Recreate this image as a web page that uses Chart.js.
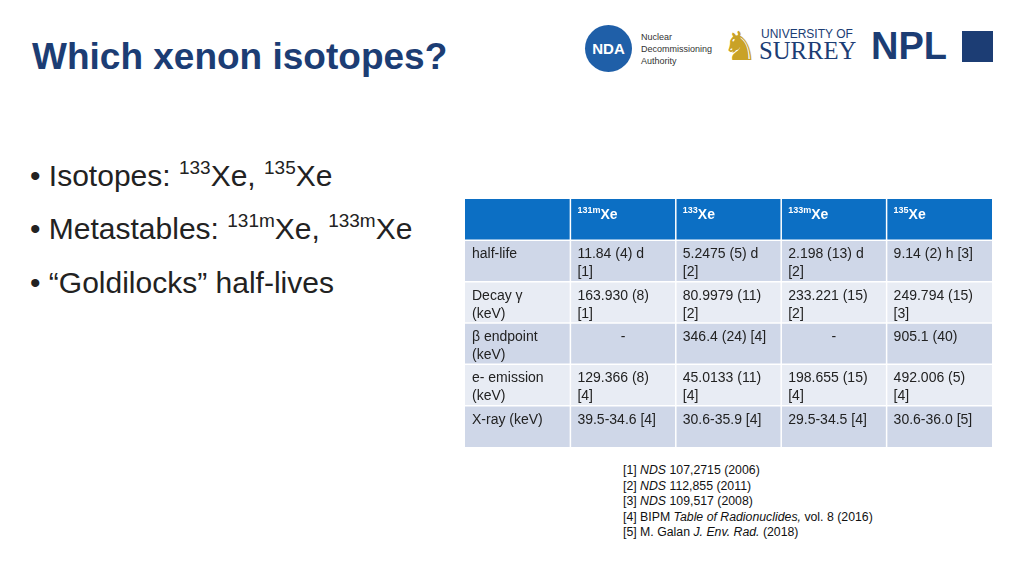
<!DOCTYPE html>
<html><head><meta charset="utf-8">
<script src="https://cdn.jsdelivr.net/npm/chart.js@4"></script>
<style>
body{margin:0;width:1024px;height:576px;background:#fff;font-family:Arial,"Liberation Sans",sans-serif;position:relative;overflow:hidden}
.abs{position:absolute}
#title{left:32px;top:36px;font-size:37px;font-weight:bold;color:#1c3d74}
.bul{left:30px;font-size:30px;color:#222;white-space:nowrap}
.bul sup{font-size:19px;vertical-align:12px;line-height:0}
#refs{left:623px;top:463px;font-size:12.3px;line-height:15.6px;color:#111}
#wrap{left:465px;top:199px;width:527px;height:248px}
</style></head><body>
<div id="title" class="abs">Which xenon isotopes?</div>
<div class="abs bul" style="top:159px">• Isotopes: <sup>133</sup>Xe, <sup>135</sup>Xe</div>
<div class="abs bul" style="top:212px">• Metastables: <sup>131m</sup>Xe, <sup>133m</sup>Xe</div>
<div class="abs bul" style="top:266px">• “Goldilocks” half-lives</div>
<div id="refs" class="abs">[1] <i>NDS</i> 107,2715 (2006)<br>[2] <i>NDS</i> 112,855 (2011)<br>[3] <i>NDS</i> 109,517 (2008)<br>[4] BIPM <i>Table of Radionuclides,</i> vol. 8 (2016)<br>[5] M. Galan <i>J. Env. Rad.</i> (2018)</div>
<!-- logos -->
<div class="abs" style="left:585px;top:25px;width:47px;height:47px;border-radius:50%;background:#1f5fa8;color:#fff;font-size:15px;font-weight:bold;text-align:center;line-height:47px">NDA</div>
<div class="abs" style="left:641px;top:31px;font-size:9px;line-height:12px;color:#333">Nuclear<br>Decommissioning<br>Authority</div>
<div class="abs" style="left:722px;top:22px;font-size:40px;color:#c9a227;line-height:48px">♞</div>
<div class="abs" style="left:761px;top:28px;font-size:12px;color:#1c3d74;line-height:12px">UNIVERSITY OF</div>
<div class="abs" style="left:759px;top:38px;font-size:26px;color:#1c3d74;line-height:26px;font-family:'Liberation Serif',serif;transform:scaleX(0.95);transform-origin:left">SURREY</div>
<div class="abs" style="left:871px;top:26px;font-size:38px;font-weight:900;color:#1c3d74;line-height:40px">NPL</div>
<div class="abs" style="left:962px;top:31px;width:31px;height:31px;background:#1c3d74"></div>
<div id="wrap" class="abs"><canvas id="c"></canvas></div>
<script>
const colHeads=[["",""],["131m","Xe"],["133","Xe"],["133m","Xe"],["135","Xe"]];
const rowLabels=["half-life","Decay γ\n(keV)","β endpoint\n(keV)","e- emission\n(keV)","X-ray (keV)"];
const col131m=["11.84 (4) d\n[1]","163.930 (8)\n[1]","-","129.366 (8)\n[4]","39.5-34.6 [4]"];
const col133=["5.2475 (5) d\n[2]","80.9979 (11)\n[2]","346.4 (24) [4]","45.0133 (11)\n[4]","30.6-35.9 [4]"];
const col133m=["2.198 (13) d\n[2]","233.221 (15)\n[2]","-","198.655 (15)\n[4]","29.5-34.5 [4]"];
const col135=["9.14 (2) h [3]","249.794 (15)\n[3]","905.1 (40)","492.006 (5)\n[4]","30.6-36.0 [5]"];
const columns=["label","131mXe","133Xe","133mXe","135Xe"];
const rows=["head","half-life","decay","beta","e-","xray"];
const body=[rowLabels,col131m,col133,col133m,col135];

const tablePlugin={id:'table',afterDatasetsDraw(chart){
  const ctx=chart.ctx,xs=chart.scales.x,ys=chart.scales.y;
  const cw=xs.width/columns.length,rh=ys.height/rows.length;
  rows.forEach((r,ri)=>{
    columns.forEach((c,ci)=>{
      const x=xs.getPixelForValue(ci)-cw/2,y=ys.getPixelForValue(ri)-rh/2;
      ctx.fillStyle=ri===0?'#0c6fc4':(ri%2===1?'#cfd7e8':'#e8ecf4');
      ctx.fillRect(x,y,cw,rh);
      ctx.textBaseline='top';ctx.textAlign='left';
      if(ri===0){
        const h=colHeads[ci];if(!h[0])return;
        ctx.fillStyle='#fff';ctx.font='bold 9px Arial';
        ctx.fillText(h[0],x+7,y+7);
        const w=ctx.measureText(h[0]).width;
        ctx.font='bold 14px Arial';ctx.fillText(h[1],x+7+w,y+9);
      }else{
        const t=body[ci][ri-1];
        ctx.fillStyle='#222';ctx.font='14px Arial';
        t.split('\n').forEach((ln,li)=>{
          if(ln==='-'){ctx.textAlign='center';ctx.fillText(ln,x+cw/2,y+7);ctx.textAlign='left';}
          else ctx.fillText(ln,x+7,y+7+li*18);
        });
      }
    });
  });
  ctx.strokeStyle='#fff';ctx.lineWidth=1.5;
  for(let i=1;i<columns.length;i++){const x=xs.left+i*cw;ctx.beginPath();ctx.moveTo(x,ys.top);ctx.lineTo(x,ys.bottom);ctx.stroke();}
  for(let i=1;i<rows.length;i++){const y=ys.top+i*rh;ctx.beginPath();ctx.moveTo(xs.left,y);ctx.lineTo(xs.right,y);ctx.stroke();}
}};
new Chart(document.getElementById('c'),{type:'bar',
 data:{labels:columns,datasets:[{data:[],backgroundColor:'transparent'}]},
 options:{responsive:true,maintainAspectRatio:false,animation:false,
  layout:{padding:0},plugins:{legend:{display:false},tooltip:{enabled:false}},
  scales:{x:{type:'category',labels:columns,display:false,offset:true},
          y:{type:'category',labels:rows,display:false,offset:true}}},
 plugins:[tablePlugin]});
</script></body></html>
